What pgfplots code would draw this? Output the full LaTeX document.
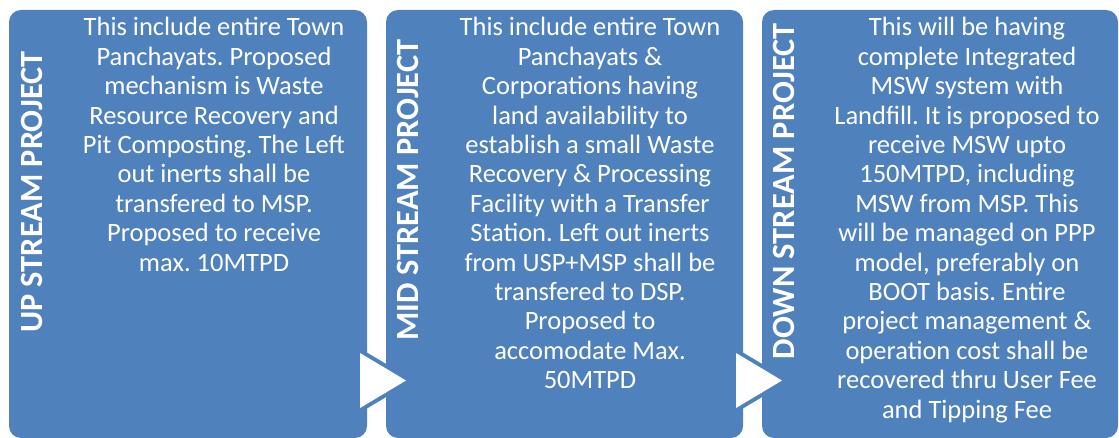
\documentclass[border=0pt]{standalone}
\usepackage{pgfplots}
\pgfplotsset{compat=1.18}
\usepackage{fontspec}
\setmainfont{Carlito}
\frenchspacing
\definecolor{boxblue}{HTML}{4F81BD}
\newcommand{\bodyfont}{\fontsize{26.5}{29.4}\selectfont}
\newcommand{\titlefont}{\bfseries\fontsize{32.4}{36}\selectfont}
\begin{document}
\begin{tikzpicture}
\begin{axis}[width=1119pt,height=438pt,scale only axis,
  xmin=0,xmax=1119,ymin=0,ymax=438,y dir=reverse,
  axis lines=none,ticks=none,clip=false]
\path (axis cs:0,0) rectangle (axis cs:1119,438);
% boxes
\fill[boxblue, rounded corners=12pt] (axis cs:9,10) rectangle (axis cs:367,438);
\fill[boxblue, rounded corners=12pt] (axis cs:386,10) rectangle (axis cs:743,438);
\fill[boxblue, rounded corners=12pt] (axis cs:762,10) rectangle (axis cs:1118,438);
% arrows
\filldraw[draw=boxblue, line width=8pt, fill=white] (axis cs:360,353) -- (axis cs:406,380.5) -- (axis cs:360,408) -- cycle;
\fill[white] (axis cs:360,353) -- (axis cs:406,380.5) -- (axis cs:360,408) -- cycle;
\filldraw[draw=boxblue, line width=8pt, fill=white] (axis cs:736,353) -- (axis cs:782,380.5) -- (axis cs:736,408) -- cycle;
\fill[white] (axis cs:736,353) -- (axis cs:782,380.5) -- (axis cs:736,408) -- cycle;
% titles
\node[rotate=90, text=white, inner sep=0pt, font=\titlefont] at (axis cs:32,192) {UP STREAM PROJECT};
\node[rotate=90, text=white, inner sep=0pt, font=\titlefont] at (axis cs:408,190) {MID STREAM PROJECT};
\node[rotate=90, text=white, inner sep=0pt, font=\titlefont] at (axis cs:784,191) {DOWN STREAM PROJECT};
% body texts
\node[text=white, anchor=base, inner sep=0pt, font=\bodyfont] at (axis cs:214,36) {\begin{tabular}[t]{@{}c@{}}This include entire Town\\Panchayats. Proposed\\mechanism is Waste\\Resource Recovery and\\Pit Composting. The Left\\out inerts shall be\\transfered to MSP.\\Proposed to receive\\max. 10MTPD\end{tabular}};
\node[text=white, anchor=base, inner sep=0pt, font=\bodyfont] at (axis cs:590,36) {\begin{tabular}[t]{@{}c@{}}This include entire Town\\Panchayats \&\\Corporations having\\land availability to\\establish a small Waste\\Recovery \& Processing\\Facility with a Transfer\\Station. Left out inerts\\from USP+MSP shall be\\transfered to DSP.\\Proposed to\\accomodate Max.\\50MTPD\end{tabular}};
\node[text=white, anchor=base, inner sep=0pt, font=\bodyfont] at (axis cs:967,36) {\begin{tabular}[t]{@{}c@{}}This will be having\\complete Integrated\\MSW system with\\Landfill. It is proposed to\\receive MSW upto\\150MTPD, including\\MSW from MSP. This\\will be managed on PPP\\model, preferably on\\BOOT basis. Entire\\project management \&\\operation cost shall be\\recovered thru User Fee\\and Tipping Fee\end{tabular}};
\end{axis}
\end{tikzpicture}
\end{document}
